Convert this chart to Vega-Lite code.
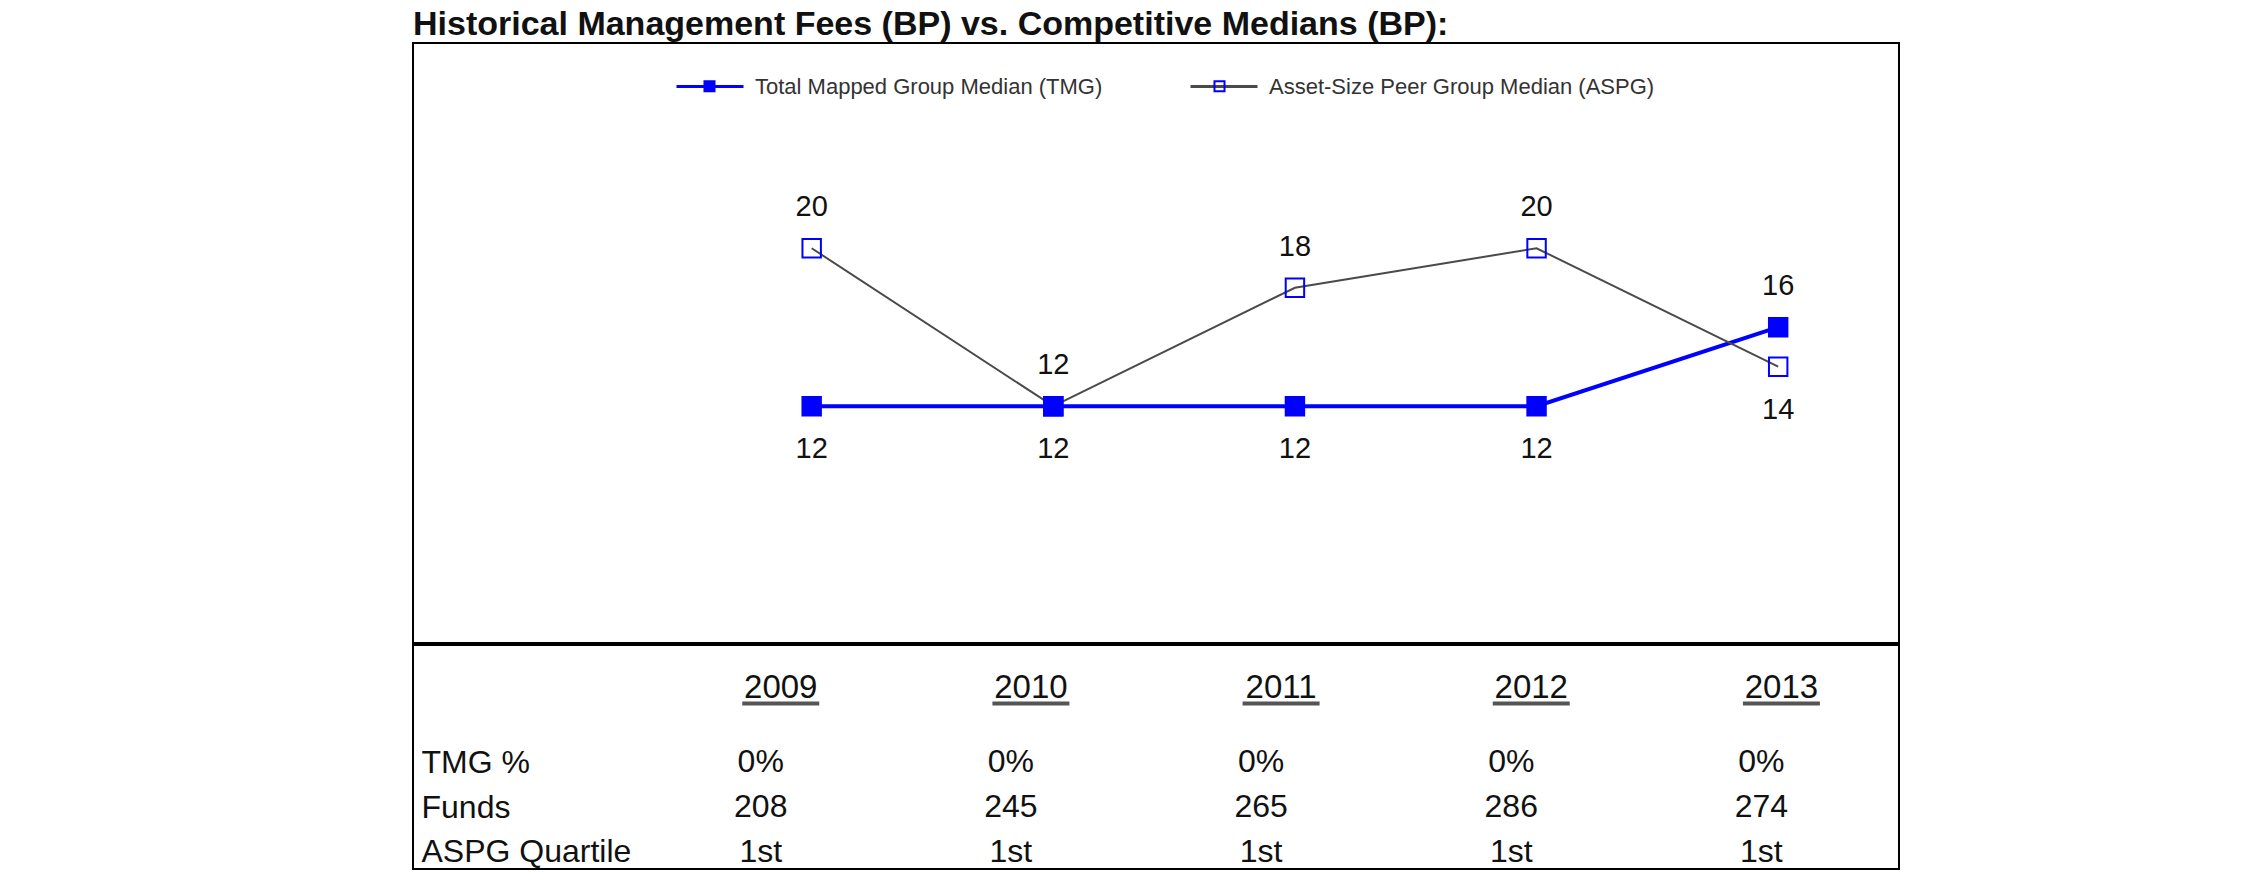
{
  "$schema": "https://vega.github.io/schema/vega-lite/v6.json",
  "background": "white",
  "padding": {"left": 412, "top": 8, "right": 20, "bottom": 10},
  "config": {"font": "Liberation Sans", "view": {"stroke": "#000000", "strokeWidth": 2}},
  "title": {"text": "Historical Management Fees (BP) vs. Competitive Medians (BP):", "anchor": "start", "frame": "group", "fontSize": 34, "fontWeight": "bold", "font": "Liberation Sans", "color": "#111111", "offset": 0},
  "datasets": {
    "fees": [
      {"year": 2009, "series": "Total Mapped Group Median (TMG)", "value": 12},
      {"year": 2010, "series": "Total Mapped Group Median (TMG)", "value": 12},
      {"year": 2011, "series": "Total Mapped Group Median (TMG)", "value": 12},
      {"year": 2012, "series": "Total Mapped Group Median (TMG)", "value": 12},
      {"year": 2013, "series": "Total Mapped Group Median (TMG)", "value": 16},
      {"year": 2009, "series": "Asset-Size Peer Group Median (ASPG)", "value": 20},
      {"year": 2010, "series": "Asset-Size Peer Group Median (ASPG)", "value": 12},
      {"year": 2011, "series": "Asset-Size Peer Group Median (ASPG)", "value": 18},
      {"year": 2012, "series": "Asset-Size Peer Group Median (ASPG)", "value": 20},
      {"year": 2013, "series": "Asset-Size Peer Group Median (ASPG)", "value": 14}
    ],
    "table": [
      {"year": 2009, "row": "Year", "label": "2009"},
      {"year": 2010, "row": "Year", "label": "2010"},
      {"year": 2011, "row": "Year", "label": "2011"},
      {"year": 2012, "row": "Year", "label": "2012"},
      {"year": 2013, "row": "Year", "label": "2013"},
      {"year": 2009, "row": "TMG %", "label": "0%"},
      {"year": 2010, "row": "TMG %", "label": "0%"},
      {"year": 2011, "row": "TMG %", "label": "0%"},
      {"year": 2012, "row": "TMG %", "label": "0%"},
      {"year": 2013, "row": "TMG %", "label": "0%"},
      {"year": 2009, "row": "Funds", "label": "208"},
      {"year": 2010, "row": "Funds", "label": "245"},
      {"year": 2011, "row": "Funds", "label": "265"},
      {"year": 2012, "row": "Funds", "label": "286"},
      {"year": 2013, "row": "Funds", "label": "274"},
      {"year": 2009, "row": "ASPG Quartile", "label": "1st"},
      {"year": 2010, "row": "ASPG Quartile", "label": "1st"},
      {"year": 2011, "row": "ASPG Quartile", "label": "1st"},
      {"year": 2012, "row": "ASPG Quartile", "label": "1st"},
      {"year": 2013, "row": "ASPG Quartile", "label": "1st"}
    ]
  },
  "spacing": 0,
  "resolve": {"scale": {"x": "independent", "y": "independent"}},
  "vconcat": [
    {
      "width": 1486,
      "height": 600,
      "data": {"name": "fees"},
      "encoding": {
        "x": {"field": "year", "type": "quantitative", "scale": {"domain": [2007.35, 2013.5], "nice": false, "zero": false}, "axis": null},
        "y": {"field": "value", "type": "quantitative", "scale": {"domain": [0, 30.4], "nice": false, "zero": false}, "axis": null}
      },
      "layer": [
        {
          "transform": [{"filter": "datum.series == 'Total Mapped Group Median (TMG)'"}],
          "mark": {"type": "line", "strokeWidth": 4},
          "encoding": {
            "stroke": {"field": "series", "type": "nominal",
              "scale": {"domain": ["Total Mapped Group Median (TMG)", "Asset-Size Peer Group Median (ASPG)"], "range": ["#0000ff", "#4a4a4a"]},
              "legend": {"title": null, "orient": "none", "legendX": 262, "legendY": 8.5, "direction": "horizontal", "symbolType": "stroke", "symbolSize": 4489, "symbolStrokeWidth": 3, "labelFont": "Liberation Sans", "labelFontSize": 22, "labelColor": "#333333", "labelOffset": 10, "columnPadding": 81, "labelLimit": 0, "padding": 0, "rowPadding": 0}}
          }
        },
        {
          "transform": [{"filter": "datum.series == 'Asset-Size Peer Group Median (ASPG)'"}],
          "mark": {"type": "line", "strokeWidth": 2},
          "encoding": {
            "stroke": {"field": "series", "type": "nominal",
              "scale": {"domain": ["Total Mapped Group Median (TMG)", "Asset-Size Peer Group Median (ASPG)"], "range": ["#0000ff", "#4a4a4a"]}}
          }
        },
        {
          "mark": {"type": "point", "shape": "square", "filled": true, "size": 340, "opacity": 1, "stroke": "#0000ff", "strokeWidth": 2},
          "encoding": {
            "fill": {"field": "series", "type": "nominal", "sort": "descending",
              "scale": {"range": ["#0000ff", "transparent"]},
              "legend": {"title": null, "orient": "none", "legendX": 262, "legendY": 8.5, "direction": "horizontal", "symbolType": "M-0.15,-0.15H0.15V0.15H-0.15Z", "symbolSize": 4489, "symbolStrokeColor": "#0000ff", "symbolStrokeWidth": 2, "symbolOpacity": 1, "labelExpr": "''", "labelFontSize": 22, "labelOffset": 10, "columnPadding": 431, "labelLimit": 0, "padding": 0, "rowPadding": 0}}
          }
        },
        {
          "transform": [
            {"joinaggregate": [{"op": "max", "field": "value", "as": "vmax"}, {"op": "min", "field": "value", "as": "vmin"}], "groupby": ["year"]},
            {"filter": "datum.value == datum.vmax && (datum.value > datum.vmin || datum.series == 'Asset-Size Peer Group Median (ASPG)')"}
          ],
          "mark": {"type": "text", "fontSize": 29, "dy": -41, "color": "#111111", "font": "Liberation Sans"},
          "encoding": {"text": {"field": "value", "type": "quantitative"}}
        },
        {
          "transform": [
            {"joinaggregate": [{"op": "max", "field": "value", "as": "vmax"}, {"op": "min", "field": "value", "as": "vmin"}], "groupby": ["year"]},
            {"filter": "!(datum.value == datum.vmax && (datum.value > datum.vmin || datum.series == 'Asset-Size Peer Group Median (ASPG)'))"}
          ],
          "mark": {"type": "text", "fontSize": 29, "dy": 43, "color": "#111111", "font": "Liberation Sans"},
          "encoding": {"text": {"field": "value", "type": "quantitative"}}
        }
      ]
    },
    {
      "width": 1486,
      "height": 224,
      "data": {"name": "table"},
      "encoding": {
        "x": {"field": "year", "type": "quantitative", "scale": {"domain": [2007.53, 2013.47], "nice": false, "zero": false}, "axis": null},
        "y": {"field": "row", "type": "nominal",
          "scale": {"type": "point", "domain": ["Year", "TMG %", "Funds", "ASPG Quartile"], "padding": 1.447, "align": 0.809},
          "axis": {"values": ["TMG %", "Funds", "ASPG Quartile"], "title": null, "domain": false, "ticks": false, "tickSize": 0, "grid": false, "labelPadding": -8, "labelAlign": "left", "labelBaseline": "middle", "labelFontSize": 32, "labelFont": "Liberation Sans", "labelColor": "#111111", "labelLimit": 0}}
      },
      "layer": [
        {
          "transform": [{"filter": "datum.row == 'Year'"}],
          "mark": {"type": "text", "fontSize": 33, "dy": -29, "color": "#111111", "font": "Liberation Sans"},
          "encoding": {"text": {"field": "label", "type": "nominal"}}
        },
        {
          "transform": [{"filter": "datum.row == 'Year'"}],
          "mark": {"type": "tick", "orient": "horizontal", "size": 77, "thickness": 4, "yOffset": -14, "color": "#555555", "opacity": 1}
        },
        {
          "transform": [{"filter": "datum.row != 'Year'"}],
          "mark": {"type": "text", "fontSize": 32, "dx": -20, "color": "#111111", "font": "Liberation Sans"},
          "encoding": {"text": {"field": "label", "type": "nominal"}}
        }
      ]
    }
  ]
}
